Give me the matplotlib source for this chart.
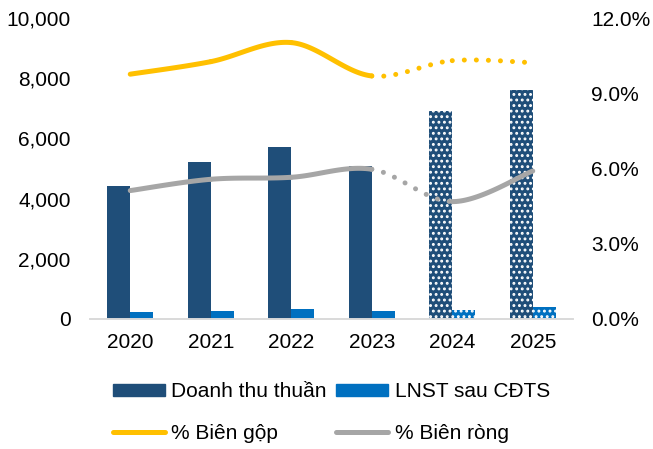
"""
Doanh thu thuần, LNST sau CĐTS và biên lợi nhuận 2020-2025.
"""

import numpy as np
import matplotlib.pyplot as plt
from matplotlib.lines import Line2D
from matplotlib.patches import Patch
from matplotlib.ticker import FuncFormatter

plt.rcParams['font.family'] = ['Liberation Sans', 'DejaVu Sans']
plt.rcParams['hatch.linewidth'] = 1.3

# Data (tỷ đồng, %)
years = ['2020', '2021', '2022', '2023', '2024', '2025']
revenue = [4420, 5200, 5700, 5080, 6920, 7610]
net_profit = [230, 265, 320, 265, 300, 400]
gross_margin = [9.76, 10.26, 11.02, 9.69, 10.30, 10.22]
net_margin = [5.12, 5.57, 5.65, 5.97, 4.68, 5.90]
forecast = [False, False, False, False, True, True]

# Line styles per segment (between consecutive years)
gross_dotted = [False, False, False, True, True]
net_dotted = [False, False, False, True, False]

NAVY = '#1F4E79'
BLUE = '#0070C0'
GOLD = '#FFC000'
GREY = '#A6A6A6'
FS = 15


def smooth_segment(x, y, i, n=40):
    """Bezier segment i -> i+1 with Catmull-Rom style control points."""
    p = np.column_stack([x, y]).astype(float)
    p0 = p[max(i - 1, 0)]
    p1 = p[i]
    p2 = p[i + 1]
    p3 = p[min(i + 2, len(p) - 1)]
    c1 = p1 + (p2 - p0) / 6.0
    c2 = p2 - (p3 - p1) / 6.0
    t = np.linspace(0, 1, n)[:, None]
    pts = ((1 - t) ** 3 * p1 + 3 * (1 - t) ** 2 * t * c1
           + 3 * (1 - t) * t ** 2 * c2 + t ** 3 * p2)
    return pts[:, 0], pts[:, 1]


def draw_smooth(ax, x, y, dotted, color, lw):
    for i, is_dot in enumerate(dotted):
        sx, sy = smooth_segment(x, y, i)
        if is_dot:
            ax.plot(sx, sy, color=color, lw=lw, solid_capstyle='round',
                    dash_capstyle='round', linestyle=(0, (0.01, 2.4)))
        else:
            ax.plot(sx, sy, color=color, lw=lw, solid_capstyle='round')


fig = plt.figure(figsize=(6.53, 4.49), dpi=100)
ax = fig.add_axes([90 / 653, 130 / 449, 483 / 653, 301 / 449])
ax2 = ax.twinx()

x = np.arange(len(years))
w = 0.285
for xi, rev, prof, fc in zip(x, revenue, net_profit, forecast):
    hatch = '...' if fc else None
    ax.bar(xi - w / 2, rev, w, color=NAVY, hatch=hatch,
           edgecolor='white' if fc else NAVY, linewidth=0)
    ax.bar(xi + w / 2, prof, w, color=BLUE, hatch=hatch,
           edgecolor='white' if fc else BLUE, linewidth=0)

ax.set_xlim(-0.5, len(years) - 0.5)
ax.set_ylim(0, 10000)
ax.set_yticks(np.arange(0, 10001, 2000))
ax.yaxis.set_major_formatter(FuncFormatter(lambda v, _: f'{v:,.0f}'))
ax.set_xticks(x)
ax.set_xticklabels(years)

draw_smooth(ax2, x, gross_margin, gross_dotted, GOLD, 3.6)
draw_smooth(ax2, x, net_margin, net_dotted, GREY, 3.6)
ax2.set_ylim(0, 12)
ax2.set_yticks(np.arange(0, 12.1, 3))
ax2.yaxis.set_major_formatter(FuncFormatter(lambda v, _: f'{v:.1f}%'))

for a in (ax, ax2):
    for side in ('top', 'left', 'right'):
        a.spines[side].set_visible(False)
    a.spines['bottom'].set_color('#D9D9D9')
    a.spines['bottom'].set_linewidth(1.2)
    a.tick_params(length=0, labelsize=FS, colors='black')
ax.tick_params(axis='y', pad=14)
ax2.tick_params(axis='y', pad=13)
ax.tick_params(axis='x', pad=10)

# Legend fills column by column, so order gives rows: bars / lines
handles = [
    Patch(color=NAVY, label='Doanh thu thuần'),
    Line2D([], [], color=GOLD, lw=3.6, solid_capstyle='round', label='% Biên gộp'),
    Patch(color=BLUE, label='LNST sau CĐTS'),
    Line2D([], [], color=GREY, lw=3.6, solid_capstyle='round', label='% Biên ròng'),
]
fig.legend(handles=handles, ncol=2, loc='upper left',
           bbox_to_anchor=(113 / 653, 1 - 382 / 449), frameon=False,
           fontsize=FS, handlelength=2.5, handleheight=0.5,
           handletextpad=0.3, columnspacing=0.45, labelspacing=1.1,
           borderaxespad=0, borderpad=0)

fig.savefig('out.png', dpi=100)
